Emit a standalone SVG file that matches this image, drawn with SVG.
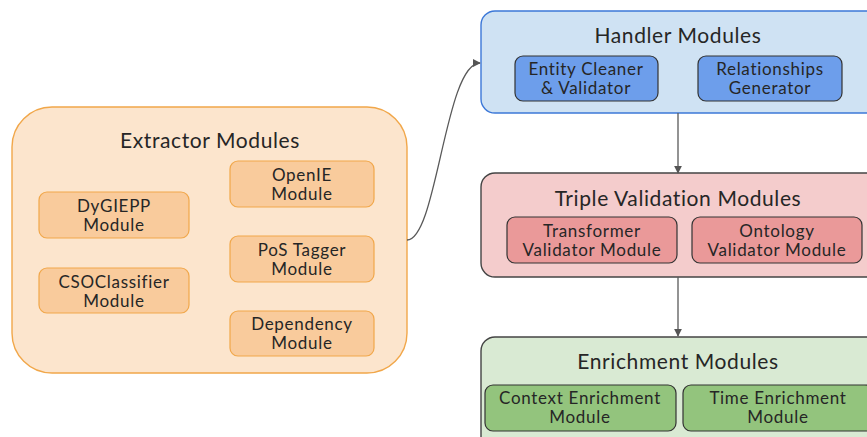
<svg xmlns="http://www.w3.org/2000/svg" width="867" height="437" viewBox="0 0 867 437">
  <defs>
    <marker id="arrow" viewBox="0 0 10 10" refX="9" refY="5" markerWidth="8" markerHeight="8" markerUnits="userSpaceOnUse" orient="auto">
      <path d="M0,0 L10,5 L0,10 z" fill="#555"/>
    </marker>
  </defs>
  <style>
    text { font-family: Lato, "Noto Sans", "Liberation Sans", sans-serif; fill: #262626; text-anchor: middle; }
    .title { font-size: 21px; letter-spacing: 0.6px; }
    .item { font-size: 17px; letter-spacing: 0.7px; }
    .inner { stroke-width: 1.2; }
    .ext-box { fill: #fce5cd; stroke: #f1a74a; stroke-width: 1.4; }
    .ext-item { fill: #f9cb9c; stroke: #f1a74a; }
    .hdl-box { fill: #cfe2f3; stroke: #3c78d8; stroke-width: 1.4; }
    .hdl-item { fill: #6d9eeb; stroke: #333; }
    .tv-box { fill: #f4cccc; stroke: #444; stroke-width: 1.4; }
    .tv-item { fill: #ea9999; stroke: #333; }
    .en-box { fill: #d9ead3; stroke: #444; stroke-width: 1.4; }
    .en-item { fill: #93c47d; stroke: #333; }
    .conn { fill: none; stroke: #595959; stroke-width: 1.3; marker-end: url(#arrow); }
  </style>

  <!-- Extractor group -->
  <g id="extractor">
    <rect class="ext-box" x="12" y="107" width="395" height="266" rx="40"/>
    <text class="title" x="210" y="148">Extractor Modules</text>
    <g id="dygiepp">
      <rect class="ext-item inner" x="39" y="192" width="150" height="46" rx="8"/>
      <text class="item" x="114" y="212">DyGIEPP</text>
      <text class="item" x="114" y="231">Module</text>
    </g>
    <g id="csoclassifier">
      <rect class="ext-item inner" x="39" y="268" width="150" height="45" rx="8"/>
      <text class="item" x="114" y="288">CSOClassifier</text>
      <text class="item" x="114" y="307">Module</text>
    </g>
    <g id="openie">
      <rect class="ext-item inner" x="230" y="161" width="144" height="46" rx="8"/>
      <text class="item" x="302" y="181">OpenIE</text>
      <text class="item" x="302" y="200">Module</text>
    </g>
    <g id="pos-tagger">
      <rect class="ext-item inner" x="230" y="236" width="144" height="46" rx="8"/>
      <text class="item" x="302" y="256">PoS Tagger</text>
      <text class="item" x="302" y="275">Module</text>
    </g>
    <g id="dependency">
      <rect class="ext-item inner" x="230" y="311" width="144" height="45" rx="8"/>
      <text class="item" x="302" y="330">Dependency</text>
      <text class="item" x="302" y="349">Module</text>
    </g>
  </g>

  <!-- Handler group -->
  <g id="handler">
    <rect class="hdl-box" x="481" y="11" width="400" height="102" rx="14"/>
    <text class="title" x="678" y="43">Handler Modules</text>
    <g id="entity-cleaner">
      <rect class="hdl-item inner" x="515" y="56" width="143" height="45" rx="8"/>
      <text class="item" x="586" y="75">Entity Cleaner</text>
      <text class="item" x="586" y="94">&amp; Validator</text>
    </g>
    <g id="relationships-generator">
      <rect class="hdl-item inner" x="698" y="56" width="144" height="45" rx="8"/>
      <text class="item" x="770" y="75">Relationships</text>
      <text class="item" x="770" y="94">Generator</text>
    </g>
  </g>

  <!-- Triple validation group -->
  <g id="triple-validation">
    <rect class="tv-box" x="481" y="173" width="400" height="104" rx="14"/>
    <text class="title" x="678" y="206">Triple Validation Modules</text>
    <g id="transformer-validator">
      <rect class="tv-item inner" x="507" y="217" width="170" height="46" rx="8"/>
      <text class="item" x="592" y="237">Transformer</text>
      <text class="item" x="592" y="256">Validator Module</text>
    </g>
    <g id="ontology-validator">
      <rect class="tv-item inner" x="692" y="217" width="170" height="46" rx="8"/>
      <text class="item" x="777" y="237">Ontology</text>
      <text class="item" x="777" y="256">Validator Module</text>
    </g>
  </g>

  <!-- Enrichment group -->
  <g id="enrichment">
    <rect class="en-box" x="481" y="337" width="400" height="120" rx="14"/>
    <text class="title" x="678" y="369">Enrichment Modules</text>
    <g id="context-enrichment">
      <rect class="en-item inner" x="485" y="385" width="191" height="46" rx="8"/>
      <text class="item" x="580" y="404">Context Enrichment</text>
      <text class="item" x="580" y="423">Module</text>
    </g>
    <g id="time-enrichment">
      <rect class="en-item inner" x="683" y="385" width="190" height="46" rx="8"/>
      <text class="item" x="778" y="404">Time Enrichment</text>
      <text class="item" x="778" y="423">Module</text>
    </g>
  </g>

  <!-- Connectors -->
  <g id="connectors">
    <path class="conn" d="M407,240 C437,240 445,63 480,63"/>
    <path class="conn" d="M678,113 L678,173"/>
    <path class="conn" d="M678,277 L678,336"/>
  </g>
</svg>
